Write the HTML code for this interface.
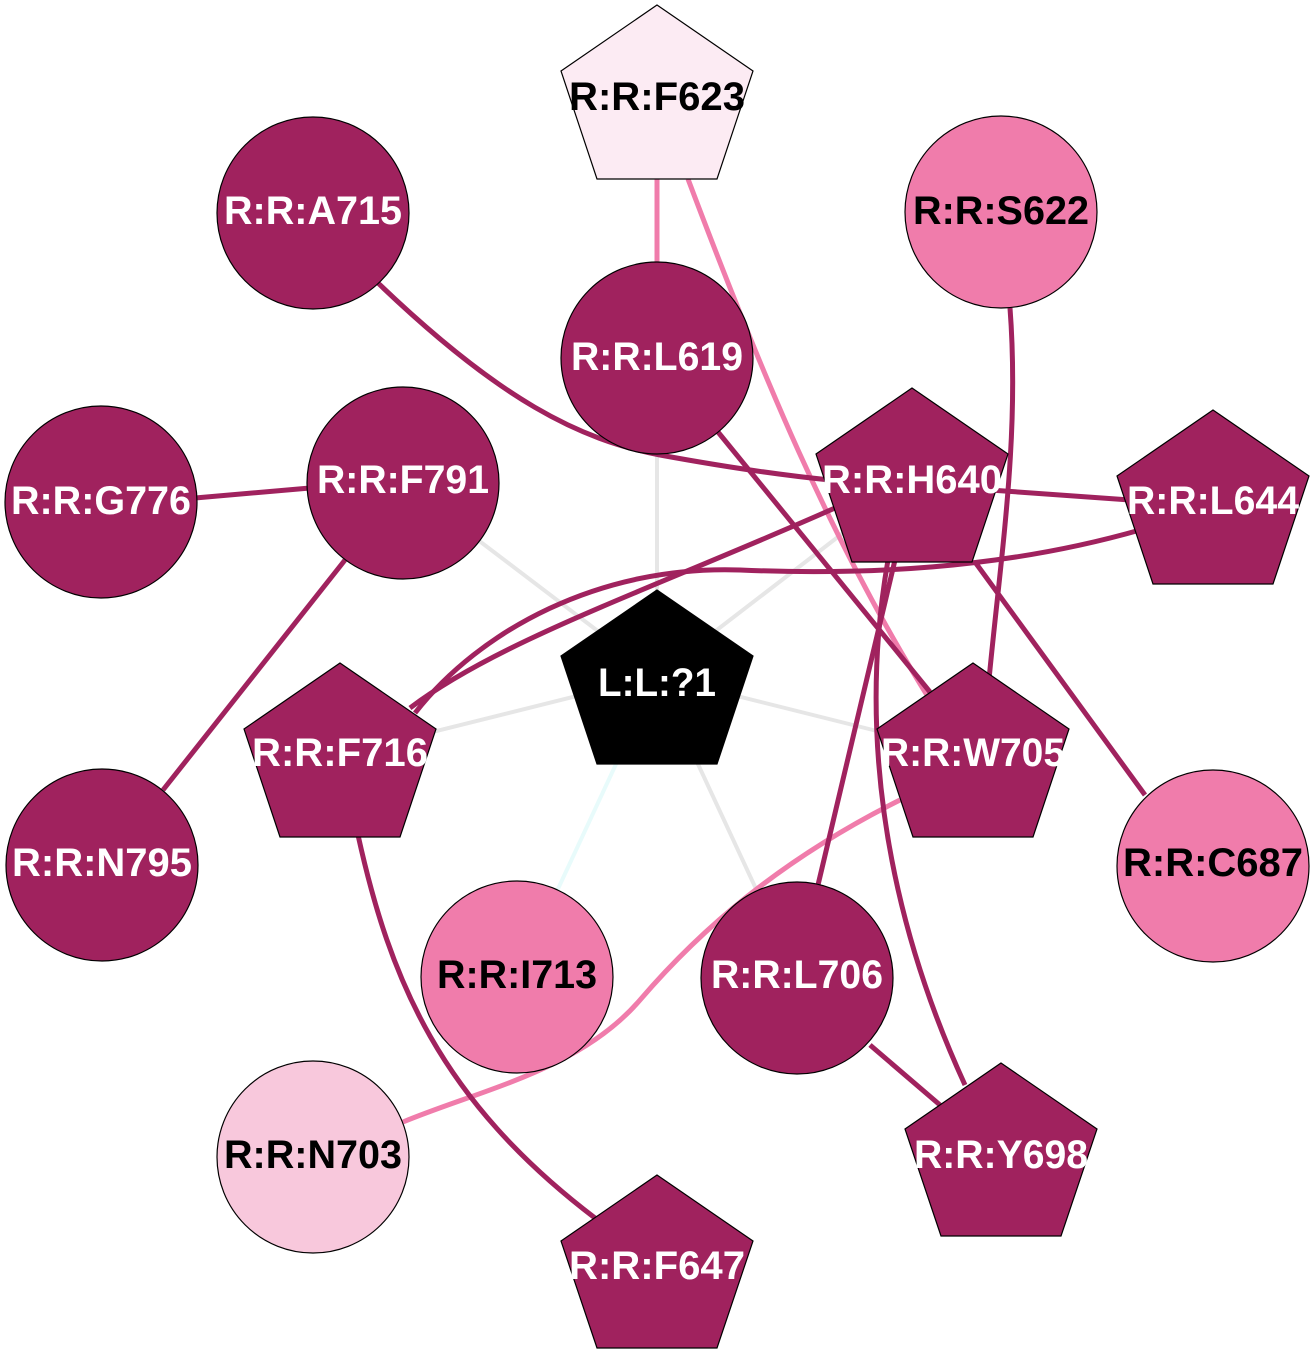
<!DOCTYPE html>
<html><head><meta charset="utf-8"><style>
html,body{margin:0;padding:0;background:#fff;}
svg{display:block;}
text{font-family:"Liberation Sans",Arial,sans-serif;font-weight:bold;font-size:40px;text-anchor:middle;dominant-baseline:central;}
</style></head><body>
<svg width="1315" height="1372" viewBox="0 0 1315 1372" xmlns="http://www.w3.org/2000/svg">
<g fill="none" stroke-linecap="butt">
<g stroke="#e6e6e6" stroke-width="4">
<line x1="657" y1="676" x2="403" y2="483"/>
<line x1="657" y1="676" x2="657" y2="358"/>
<line x1="657" y1="676" x2="912" y2="480"/>
<line x1="657" y1="676" x2="340" y2="755"/>
<line x1="657" y1="676" x2="973" y2="755"/>
<line x1="657" y1="676" x2="797" y2="977"/>
</g>
<line x1="657" y1="676" x2="517" y2="977" stroke="#e8fbfb" stroke-width="4"/>
<g stroke="#f07cab" stroke-width="5">
<line x1="657" y1="179" x2="657" y2="358"/>
<path d="M688,179 C760,370 830,540 930,700"/>
<path d="M900,800 C780,860 700,930 640,1000 C580,1070 480,1090 403,1122"/>
</g>
<g stroke="#a0225e" stroke-width="5">
<path d="M378,283 C500,400 580,440 660,455 C720,466 780,475 830,480"/>
<line x1="990" y1="490" x2="1130" y2="500"/>
<path d="M1010,308 C1020,440 1000,560 988,690"/>
<line x1="195" y1="498" x2="310" y2="488"/>
<line x1="345" y1="560" x2="163" y2="790"/>
<line x1="718" y1="432" x2="930" y2="692"/>
<path d="M835,508 C650,590 500,640 410,708"/>
<path d="M1140,530 C1000,570 860,575 740,570 C600,565 480,630 415,713"/>
<line x1="975" y1="562" x2="1145" y2="795"/>
<line x1="895" y1="560" x2="818" y2="885"/>
<path d="M888,560 C860,720 880,900 965,1085"/>
<path d="M358,835 C390,980 440,1100 595,1218"/>
<line x1="870" y1="1045" x2="940" y2="1105"/>
</g>
</g>
<g stroke="#000" stroke-width="1.2">
<polygon points="657,5 753,71 717,179 597,179 561,71" fill="#fcebf3"/>
<circle cx="313" cy="213" r="96" fill="#a0225e"/>
<circle cx="1001" cy="212" r="96" fill="#f07cab"/>
<circle cx="657" cy="358" r="96" fill="#a0225e"/>
<circle cx="101" cy="502" r="96" fill="#a0225e"/>
<circle cx="403" cy="483" r="96" fill="#a0225e"/>
<polygon points="912,388 1008,454 972,562 852,562 816,454" fill="#a0225e"/>
<polygon points="1213,410 1309,476 1273,584 1153,584 1117,476" fill="#a0225e"/>
<polygon points="657,590 753,656 717,764 597,764 561,656" fill="#000"/>
<polygon points="340,663 436,729 400,837 280,837 244,729" fill="#a0225e"/>
<polygon points="973,663 1069,729 1033,837 913,837 877,729" fill="#a0225e"/>
<circle cx="102" cy="865" r="96" fill="#a0225e"/>
<circle cx="1213" cy="866" r="96" fill="#f07cab"/>
<circle cx="517" cy="977" r="96" fill="#f07cab"/>
<circle cx="797" cy="978" r="96" fill="#a0225e"/>
<circle cx="313" cy="1157" r="96" fill="#f8c8dc"/>
<polygon points="1001,1063 1097,1129 1061,1236 941,1236 905,1129" fill="#a0225e"/>
<polygon points="657,1175 753,1241 717,1348 597,1348 561,1241" fill="#a0225e"/>
</g>
<g>
<text x="657" y="97" fill="#000" textLength="176" lengthAdjust="spacingAndGlyphs">R:R:F623</text>
<text x="313" y="211" fill="#fff" textLength="178" lengthAdjust="spacingAndGlyphs">R:R:A715</text>
<text x="1001" y="211" fill="#000" textLength="176" lengthAdjust="spacingAndGlyphs">R:R:S622</text>
<text x="657" y="357" fill="#fff" textLength="172" lengthAdjust="spacingAndGlyphs">R:R:L619</text>
<text x="101" y="501" fill="#fff" textLength="180" lengthAdjust="spacingAndGlyphs">R:R:G776</text>
<text x="403" y="480" fill="#fff" textLength="172" lengthAdjust="spacingAndGlyphs">R:R:F791</text>
<text x="912" y="480" fill="#fff" textLength="180" lengthAdjust="spacingAndGlyphs">R:R:H640</text>
<text x="1213" y="501" fill="#fff" textLength="172" lengthAdjust="spacingAndGlyphs">R:R:L644</text>
<text x="657" y="683" fill="#fff" textLength="118" lengthAdjust="spacingAndGlyphs">L:L:?1</text>
<text x="340" y="753" fill="#fff" textLength="176" lengthAdjust="spacingAndGlyphs">R:R:F716</text>
<text x="973" y="753" fill="#fff" textLength="184" lengthAdjust="spacingAndGlyphs">R:R:W705</text>
<text x="102" y="863" fill="#fff" textLength="180" lengthAdjust="spacingAndGlyphs">R:R:N795</text>
<text x="1213" y="863" fill="#000" textLength="180" lengthAdjust="spacingAndGlyphs">R:R:C687</text>
<text x="517" y="975" fill="#000" textLength="160" lengthAdjust="spacingAndGlyphs">R:R:I713</text>
<text x="797" y="975" fill="#fff" textLength="172" lengthAdjust="spacingAndGlyphs">R:R:L706</text>
<text x="313" y="1155" fill="#000" textLength="178" lengthAdjust="spacingAndGlyphs">R:R:N703</text>
<text x="1001" y="1155" fill="#fff" textLength="174" lengthAdjust="spacingAndGlyphs">R:R:Y698</text>
<text x="657" y="1266" fill="#fff" textLength="176" lengthAdjust="spacingAndGlyphs">R:R:F647</text>
</g>
</svg>
</body></html>
